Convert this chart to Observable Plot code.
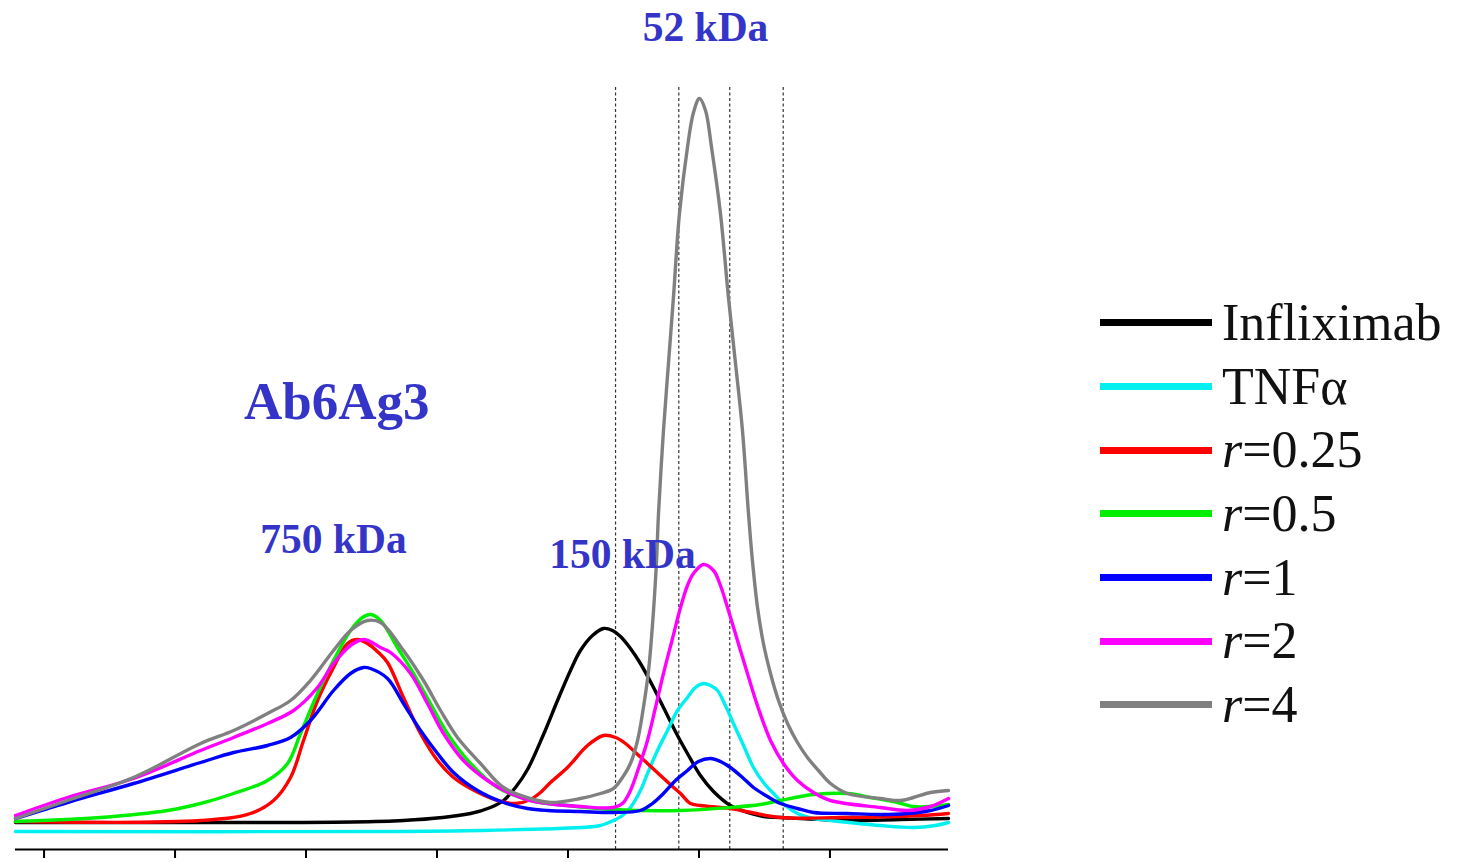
<!DOCTYPE html>
<html>
<head>
<meta charset="utf-8">
<script src="https://cdn.jsdelivr.net/npm/d3@7"></script>
<script src="https://cdn.jsdelivr.net/npm/@observablehq/plot@0.6"></script>
<style>
  html, body { margin: 0; padding: 0; background: #fff; }
  #wrap { position: relative; width: 1458px; height: 862px; overflow: hidden; }
  #legend { position: absolute; left: 1100px; top: 291px; font-family: "Liberation Serif", "Times New Roman", serif; }
  .row { display: flex; align-items: center; height: 63.7px; }
  .sw { width: 112px; height: 7px; margin-right: 10px; }
  .lab { font-size: 52px; line-height: 1; color: #111; white-space: nowrap; }
</style>
</head>
<body>
<div id="wrap"><div id="chart"></div><div id="legend"></div></div>
<script>
// ---- axis / reference data (elution axis, arbitrary units) ----
const xTicks = [0, 1, 2, 3, 4, 5, 6];
const markerX = [4.363, 4.846, 5.235, 5.643];
const markerTop = 76.4;

const seriesNames = ["Infliximab", "TNFα", "r=0.25", "r=0.5", "r=1", "r=2", "r=4"];
const seriesColors = ["#000000", "#00f0f0", "#ff0000", "#00ee00", "#0000ff", "#ff00ff", "#808080"];

// ---- series values (x: elution axis units, y: absorbance units) ----
const infliximabX = [-0.218, 1.195, 2.744, 3.256, 3.408, 3.508, 3.599, 3.691, 3.813, 3.920, 4.019, 4.095, 4.187, 4.271, 4.340, 4.401, 4.477, 4.553, 4.645, 4.729, 4.836, 4.912, 5.011, 5.111, 5.240, 5.370, 5.492, 5.622, 6.134, 6.538, 6.905];
const infliximabY = [2.7, 2.7, 2.9, 3.6, 4.2, 4.9, 6.2, 8.0, 11.5, 14.9, 17.9, 19.9, 21.4, 22.1, 21.9, 21.3, 20.1, 18.6, 16.4, 14.2, 11.4, 9.6, 7.4, 5.8, 4.4, 3.7, 3.3, 3.2, 2.9, 3.0, 3.1];

const tnfX = [-0.218, 2.721, 3.332, 4.095, 4.248, 4.347, 4.416, 4.477, 4.553, 4.607, 4.683, 4.760, 4.836, 4.912, 4.973, 5.034, 5.088, 5.141, 5.202, 5.263, 5.340, 5.416, 5.492, 5.569, 5.660, 5.752, 5.874, 6.004, 6.385, 6.637, 6.805, 6.905];
const tnfY = [1.8, 1.8, 1.9, 2.2, 2.4, 2.9, 3.4, 4.2, 5.9, 7.6, 9.9, 11.9, 13.9, 15.2, 16.2, 16.6, 16.4, 15.9, 14.4, 12.6, 10.4, 8.2, 6.7, 5.6, 4.4, 3.6, 3.1, 2.9, 2.4, 2.2, 2.4, 2.7];

const r025X = [-0.218, 1.195, 1.576, 1.752, 1.882, 1.981, 2.088, 2.210, 2.317, 2.393, 2.469, 2.553, 2.622, 2.744, 2.874, 3.004, 3.126, 3.256, 3.462, 3.599, 3.714, 3.790, 3.866, 3.996, 4.149, 4.271, 4.363, 4.439, 4.515, 4.607, 4.706, 4.798, 4.859, 4.935, 5.011, 5.240, 5.622, 6.080, 6.691, 6.905];
const r025Y = [2.8, 2.9, 3.6, 4.9, 7.2, 10.9, 14.9, 18.2, 20.6, 21.0, 20.6, 19.7, 18.7, 15.2, 11.6, 8.9, 7.2, 6.1, 4.9, 4.6, 5.0, 5.7, 6.7, 8.2, 10.4, 11.4, 11.2, 10.6, 9.7, 8.6, 7.4, 6.3, 5.6, 4.6, 4.4, 4.1, 3.2, 3.2, 3.4, 3.6];

const r05X = [-0.218, 0.431, 0.943, 1.195, 1.447, 1.706, 1.859, 1.958, 2.088, 2.210, 2.340, 2.431, 2.492, 2.569, 2.698, 2.821, 2.950, 3.080, 3.256, 3.462, 3.714, 3.996, 4.347, 4.859, 5.240, 5.469, 5.622, 5.775, 5.874, 6.134, 6.309, 6.515, 6.637, 6.767, 6.905];
const r05Y = [2.8, 3.2, 3.9, 4.6, 5.6, 6.9, 8.6, 11.6, 15.6, 18.9, 21.9, 23.2, 23.5, 22.9, 20.2, 17.6, 14.6, 11.6, 8.6, 6.2, 4.9, 4.4, 4.0, 3.9, 4.2, 4.5, 4.9, 5.3, 5.5, 5.6, 5.2, 4.7, 4.3, 4.3, 4.5];

const r1X = [-0.218, 0.179, 0.683, 1.195, 1.447, 1.706, 1.882, 2.034, 2.210, 2.340, 2.439, 2.492, 2.622, 2.744, 2.874, 3.004, 3.126, 3.309, 3.508, 3.691, 3.844, 4.095, 4.347, 4.553, 4.645, 4.729, 4.821, 4.912, 4.996, 5.088, 5.164, 5.240, 5.332, 5.416, 5.523, 5.622, 5.752, 5.874, 6.134, 6.385, 6.592, 6.767, 6.905];
const r1Y = [3.1, 4.7, 6.6, 8.7, 9.7, 10.4, 11.2, 12.9, 15.9, 17.6, 18.2, 18.1, 17.1, 14.6, 11.9, 9.6, 7.7, 5.9, 4.7, 4.1, 3.9, 3.8, 3.7, 3.9, 4.6, 5.6, 6.9, 7.9, 8.8, 9.1, 8.8, 8.2, 7.2, 6.2, 5.3, 4.6, 4.1, 3.7, 3.6, 3.5, 3.6, 3.9, 4.4];

const r2X = [-0.218, 0.179, 0.683, 1.195, 1.447, 1.706, 1.905, 2.088, 2.210, 2.340, 2.439, 2.569, 2.645, 2.798, 2.927, 3.050, 3.202, 3.385, 3.561, 3.714, 3.844, 4.095, 4.347, 4.416, 4.477, 4.538, 4.607, 4.668, 4.729, 4.798, 4.859, 4.912, 4.958, 5.034, 5.111, 5.164, 5.218, 5.294, 5.370, 5.454, 5.546, 5.645, 5.752, 5.874, 6.004, 6.385, 6.592, 6.767, 6.905];
const r2Y = [3.4, 5.2, 7.1, 9.9, 11.2, 12.6, 13.9, 16.2, 18.6, 20.4, 21.0, 20.2, 19.7, 17.6, 14.6, 11.6, 8.9, 6.9, 5.6, 4.9, 4.6, 4.3, 4.2, 4.6, 5.9, 8.1, 10.9, 14.2, 17.6, 21.1, 24.2, 26.4, 27.6, 28.5, 27.9, 26.4, 24.2, 20.9, 17.6, 14.1, 10.9, 8.6, 6.9, 5.7, 4.9, 4.2, 3.9, 4.3, 5.1];

const r4X = [-0.218, 0.179, 0.683, 1.195, 1.447, 1.706, 1.882, 2.034, 2.210, 2.340, 2.469, 2.569, 2.744, 2.897, 3.027, 3.156, 3.332, 3.508, 3.714, 3.866, 4.095, 4.248, 4.347, 4.416, 4.477, 4.531, 4.576, 4.615, 4.653, 4.676, 4.691, 4.729, 4.767, 4.805, 4.851, 4.912, 4.958, 5.004, 5.050, 5.096, 5.164, 5.225, 5.279, 5.332, 5.378, 5.408, 5.447, 5.492, 5.546, 5.607, 5.676, 5.752, 5.828, 5.912, 6.004, 6.134, 6.385, 6.538, 6.637, 6.767, 6.905];
const r4Y = [3.1, 4.9, 7.2, 10.6, 11.9, 13.6, 14.9, 16.9, 19.9, 21.9, 22.9, 22.7, 19.9, 16.9, 13.9, 11.2, 8.6, 6.2, 5.1, 4.7, 5.1, 5.6, 6.1, 7.2, 8.6, 10.9, 14.2, 17.9, 23.9, 28.9, 33.6, 41.9, 48.6, 55.2, 63.6, 70.2, 73.7, 75.1, 73.9, 70.2, 63.6, 55.2, 48.6, 41.9, 33.6, 28.9, 24.2, 20.6, 17.6, 14.9, 12.6, 10.7, 9.2, 7.9, 6.6, 5.6, 5.1, 4.9, 5.2, 5.7, 5.9];

// ---- annotations (anchored in data units) ----
const headLabels = ["52 kDa", "750 kDa", "150 kDa"];
const headX = [5.050, 2.210, 4.416];
const headY = [80.9, 29.7, 28.2];
const sampleLabel = ["Ab6Ag3"];
const sampleX = [2.235];
const sampleY = [43.1];

// ---- build table ----
const seriesXs = [infliximabX, tnfX, r025X, r05X, r1X, r2X, r4X];
const seriesYs = [infliximabY, tnfY, r025Y, r05Y, r1Y, r2Y, r4Y];
const rows = [];
seriesNames.forEach((name, i) => {
  seriesXs[i].forEach((x, j) => rows.push({series: name, x, y: seriesYs[i][j]}));
});
const heads = headLabels.map((t, i) => ({t, x: headX[i], y: headY[i]}));
const samples = sampleLabel.map((t, i) => ({t, x: sampleX[i], y: sampleY[i]}));

const serif = '"Liberation Serif", "Times New Roman", serif';
const blueText = "#3434c8";

const chart = Plot.plot({
  width: 1458,
  height: 862,
  marginLeft: 15,
  marginRight: 510,
  marginTop: 15,
  marginBottom: 13,
  style: {background: "white", fontFamily: serif},
  x: {domain: [-0.218, 6.905]},
  y: {domain: [0, 83.4], axis: null},
  color: {domain: seriesNames, range: seriesColors},
  marks: [
    Plot.ruleX(markerX, {x: d => d, y1: 0, y2: markerTop, stroke: "#333", strokeWidth: 1.2, strokeDasharray: "3,2.5"}),
    Plot.line(rows, {x: "x", y: "y", z: "series", stroke: "series", strokeWidth: 3.4, curve: "catmull-rom"}),
    Plot.ruleY([0], {stroke: "black", strokeWidth: 2}),
    Plot.axisX(xTicks, {tickSize: 9, strokeWidth: 2, stroke: "black", tickFormat: () => "", fill: "none", label: null}),
    Plot.text(heads, {x: "x", y: "y", text: "t", fontSize: 41.5, fontWeight: "bold", fill: blueText, textAnchor: "middle", lineAnchor: "bottom", fontFamily: serif}),
    Plot.text(samples, {x: "x", y: "y", text: "t", fontSize: 53, fontWeight: "bold", fill: blueText, textAnchor: "middle", lineAnchor: "bottom", fontFamily: serif})
  ]
});
document.getElementById("chart").appendChild(chart);

// ---- legend ----
const legend = document.getElementById("legend");
seriesNames.forEach((name, i) => {
  const row = document.createElement("div");
  row.className = "row";
  const sw = document.createElement("div");
  sw.className = "sw";
  sw.style.background = seriesColors[i];
  const lab = document.createElement("div");
  lab.className = "lab";
  if (name.startsWith("r=")) {
    const it = document.createElement("i");
    it.textContent = "r";
    lab.appendChild(it);
    lab.appendChild(document.createTextNode(name.slice(1)));
  } else {
    lab.textContent = name;
  }
  row.appendChild(sw);
  row.appendChild(lab);
  legend.appendChild(row);
});
</script>
</body>
</html>
